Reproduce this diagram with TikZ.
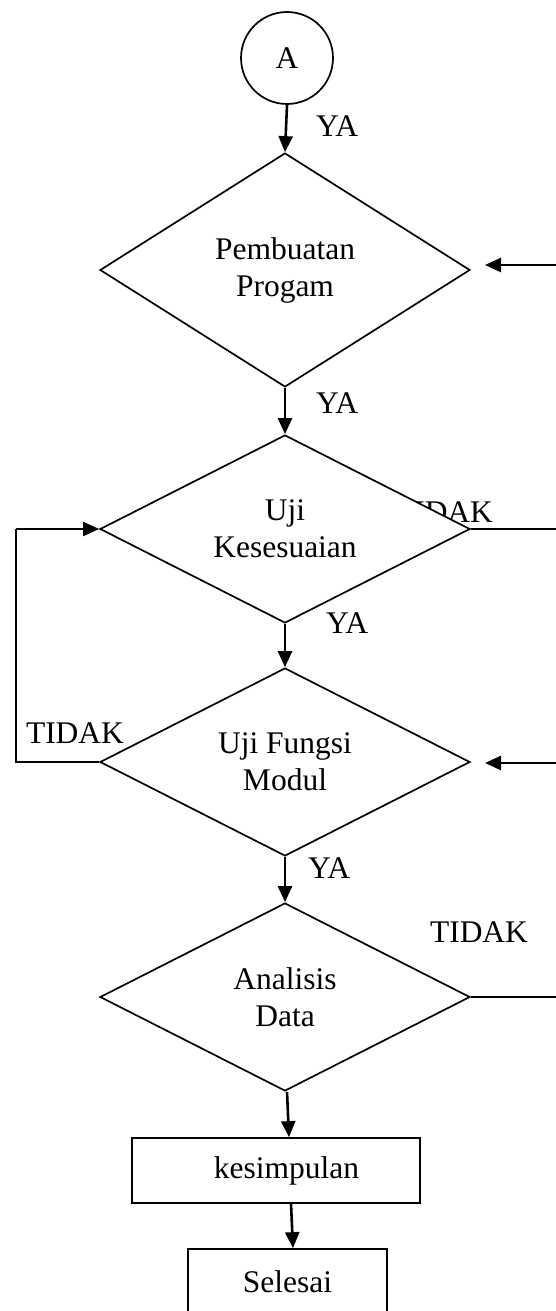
\documentclass[tikz,border=0pt]{standalone}
\usepackage{fontspec}
\setmainfont{Liberation Serif}
\usetikzlibrary{shapes.geometric,arrows.meta}
\begin{document}
\begin{tikzpicture}[x=1pt,y=-1pt,
  every node/.style={font=\fontsize{31.5}{37}\selectfont},
  decision/.style={diamond,draw,line width=1.7pt,fill=white,inner sep=0pt,
    shape aspect=2,minimum width=370pt,align=center},
  procbox/.style={rectangle,draw,line width=1.7pt,fill=white,inner sep=0pt,
    minimum width=#1,minimum height=65pt},
  tip/.style={-{Triangle[length=16pt,width=14pt]}},
  flow/.style={line width=2.6pt,tip},
  loopline/.style={line width=1.8pt},
  lbl/.style={inner sep=0pt}]
\useasboundingbox (0,0) rectangle (556,1311);

% hidden part of the branch label sits under the second decision
\node[lbl] (tidakB) at (444,512) {TIDAK};

% connector symbol and decisions
\node[circle,draw,line width=1.7pt,minimum size=92pt,inner sep=0pt] (A) at (287,58) {A};
\node[decision,minimum height=234pt] (d1) at (285,270) {Pembuatan\\Progam};
\node[decision,minimum height=188pt] (d2) at (285,529) {Uji\\Kesesuaian};
\node[decision,minimum height=188pt] (d3) at (285,762) {Uji Fungsi\\Modul};
\node[decision,minimum height=188pt] (d4) at (285,997) {Analisis\\Data};

% process boxes
\node[procbox=288pt] (kes) at (276,1170.5) {\hspace*{21pt}kesimpulan};
\node[procbox=199pt] (sel) at (287.5,1281.5) {Selesai};

% labels
\node[lbl] (ya1) at (337,126) {YA};
\node[lbl] (ya2) at (337,403) {YA};
\node[lbl] (ya3) at (347,623) {YA};
\node[lbl] (ya4) at (329,868) {YA};
\node[lbl] (tidakA) at (75,733) {TIDAK};
\node[lbl] (tidakC) at (479,932) {TIDAK};

% main flow
\draw[flow] (A.south) -- (d1.north);
\draw[flow] (d1.south) -- (d2.north);
\draw[flow] (d2.south) -- (d3.north);
\draw[flow] (d3.south) -- (d4.north);
\draw[flow] ([xshift=2pt]d4.south) -- ([xshift=4pt]d4.south |- kes.north);
\draw[flow] ([xshift=15pt]kes.south) -- ([xshift=17pt]kes.south |- sel.north);

% loop back from module test to conformity test
\coordinate (lx1) at (16,762);
\coordinate (lx2) at (16,529);
\draw[loopline] (d3.west) -- (lx1) -- (lx2);
\draw[loopline,tip] (lx2) -- (d2.west);

% branches leaving to the right
\coordinate (r2) at (560,529);
\coordinate (r4) at (560,997);
\draw[loopline] (d2.east) -- (r2);
\draw[loopline] (d4.east) -- (r4);

% returns entering from the right
\coordinate (in1s) at (560,265);
\coordinate (in1e) at (485,265);
\coordinate (in3s) at (560,763);
\coordinate (in3e) at (485,763);
\draw[flow] (in1s) -- (in1e);
\draw[flow] (in3s) -- (in3e);
\end{tikzpicture}
\end{document}
